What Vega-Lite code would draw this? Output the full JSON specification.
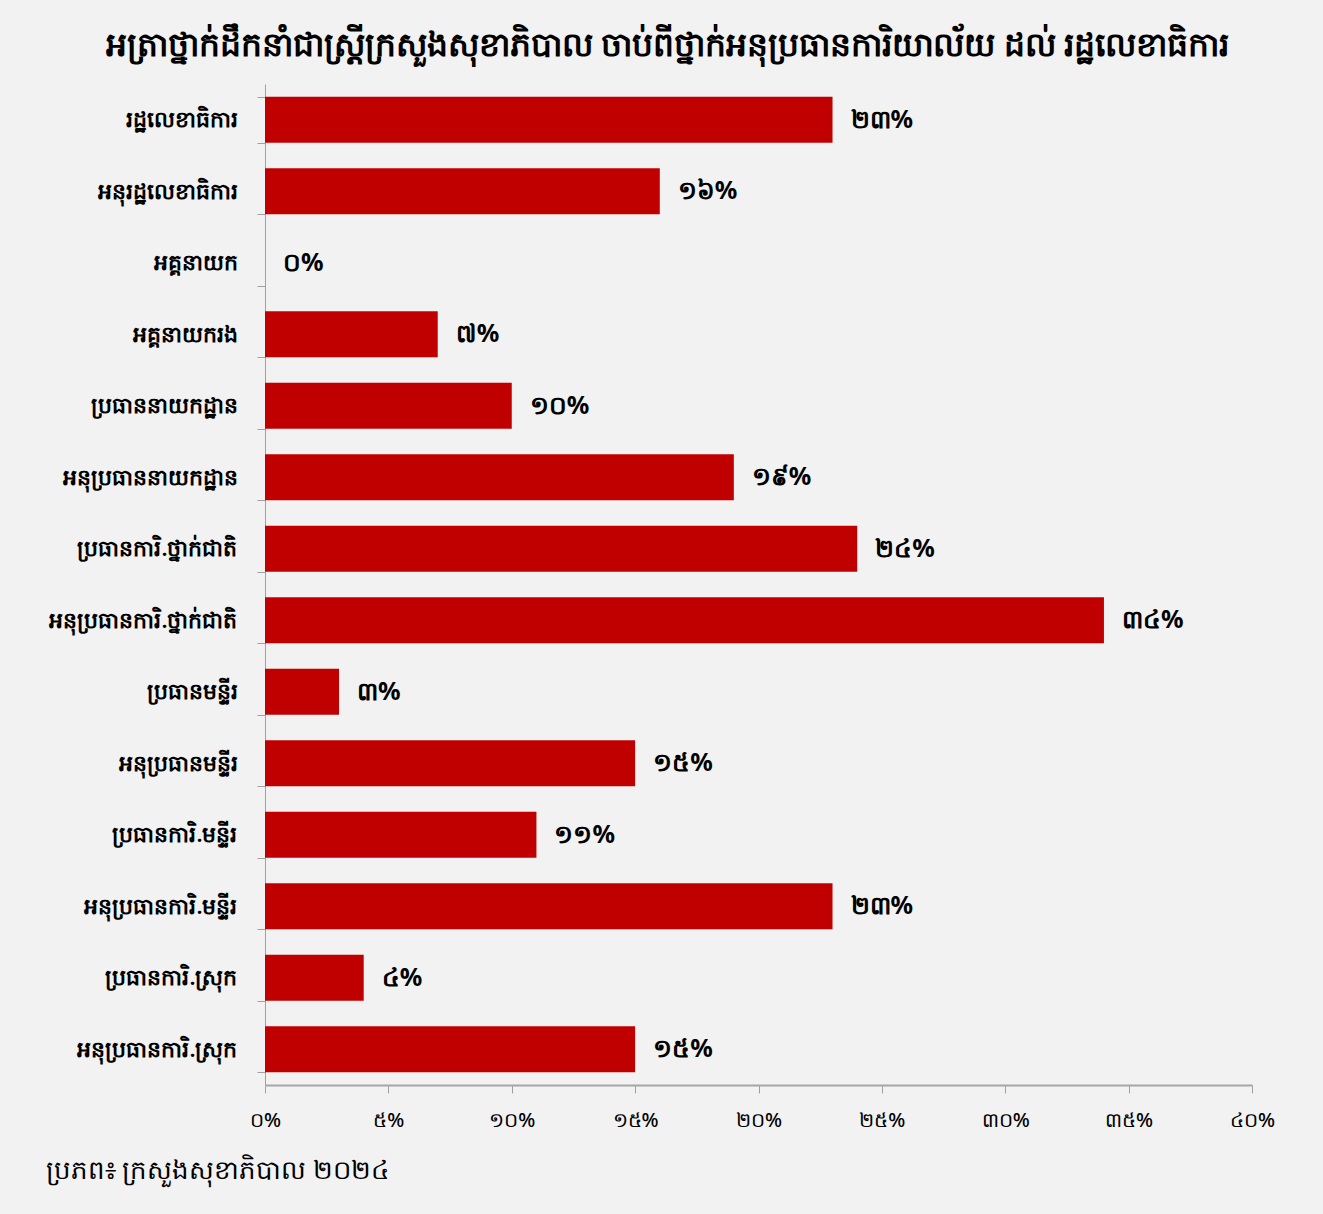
{
  "$schema": "https://vega.github.io/schema/vega-lite/v6.json",
  "autosize": "none",
  "width": 987,
  "height": 1001,
  "padding": {"left": 265, "top": 84, "right": 71, "bottom": 129},
  "background": "#f2f2f2",
  "title": {
    "text": "អត្រាថ្នាក់ដឹកនាំជាស្ត្រីក្រសួងសុខាភិបាល ចាប់ពីថ្នាក់អនុប្រធានការិយាល័យ ដល់ រដ្ឋលេខាធិការ",
    "fontSize": 33,
    "fontWeight": "bold",
    "color": "#000000",
    "font": "Noto Sans",
    "anchor": "middle",
    "dx": -91,
    "offset": 10
  },
  "data": {
    "values": [
      {"position": "រដ្ឋលេខាធិការ", "pct": 23, "label": "២៣%"},
      {"position": "អនុរដ្ឋលេខាធិការ", "pct": 16, "label": "១៦%"},
      {"position": "អគ្គនាយក", "pct": 0, "label": "០%"},
      {"position": "អគ្គនាយករង", "pct": 7, "label": "៧%"},
      {"position": "ប្រធាននាយកដ្ឋាន", "pct": 10, "label": "១០%"},
      {"position": "អនុប្រធាននាយកដ្ឋាន", "pct": 19, "label": "១៩%"},
      {"position": "ប្រធានការិ.ថ្នាក់ជាតិ", "pct": 24, "label": "២៤%"},
      {"position": "អនុប្រធានការិ.ថ្នាក់ជាតិ", "pct": 34, "label": "៣៤%"},
      {"position": "ប្រធានមន្ទីរ", "pct": 3, "label": "៣%"},
      {"position": "អនុប្រធានមន្ទីរ", "pct": 15, "label": "១៥%"},
      {"position": "ប្រធានការិ.មន្ទីរ", "pct": 11, "label": "១១%"},
      {"position": "អនុប្រធានការិ.មន្ទីរ", "pct": 23, "label": "២៣%"},
      {"position": "ប្រធានការិ.ស្រុក", "pct": 4, "label": "៤%"},
      {"position": "អនុប្រធានការិ.ស្រុក", "pct": 15, "label": "១៥%"}
    ]
  },
  "encoding": {
    "y": {
      "field": "position",
      "type": "nominal",
      "sort": null,
      "scale": {"paddingInner": 0.36, "paddingOuter": 0.18},
      "axis": {
        "title": null,
        "tickBand": "extent",
        "tickSize": 8,
        "tickColor": "#a0a0a0",
        "domainColor": "#a0a0a0",
        "labelPadding": 20,
        "labelFontSize": 22,
        "labelLimit": 260,
        "labelColor": "#000000",
        "labelFont": "Noto Sans",
        "labelFontWeight": 600
      }
    },
    "x": {
      "field": "pct",
      "type": "quantitative",
      "scale": {"domain": [0, 40]},
      "axis": {
        "values": [0, 5, 10, 15, 20, 25, 30, 35, 40],
        "labelExpr": "replace(replace(replace(replace(replace(replace(datum.value + '%', regexp('0','g'), '០'), regexp('1','g'), '១'), regexp('2','g'), '២'), regexp('3','g'), '៣'), regexp('4','g'), '៤'), regexp('5','g'), '៥')",
        "labelFlush": false,
        "grid": false,
        "tickSize": 8,
        "tickColor": "#a0a0a0",
        "domainColor": "#a6a6a6",
        "domainWidth": 2,
        "labelPadding": 17,
        "labelFontSize": 20,
        "labelColor": "#000000",
        "labelFont": "Noto Sans",
        "labelFontWeight": 500,
        "title": "ប្រភព៖ ក្រសួងសុខាភិបាល ២០២៤",
        "titleFont": "Noto Sans",
        "titleFontSize": 26,
        "titleFontWeight": "normal",
        "titleColor": "#000000",
        "titleAnchor": "start",
        "titleAlign": "left",
        "titleBaseline": "alphabetic",
        "titleX": -220,
        "titleY": 93
      }
    }
  },
  "layer": [
    {"mark": {"type": "bar", "color": "#c00000"}},
    {
      "mark": {"type": "text", "align": "left", "dx": 18, "fontSize": 25, "fontWeight": "bold", "font": "Noto Sans", "color": "#000000"},
      "encoding": {"text": {"field": "label"}}
    }
  ],
  "config": {"view": {"stroke": null}}
}
